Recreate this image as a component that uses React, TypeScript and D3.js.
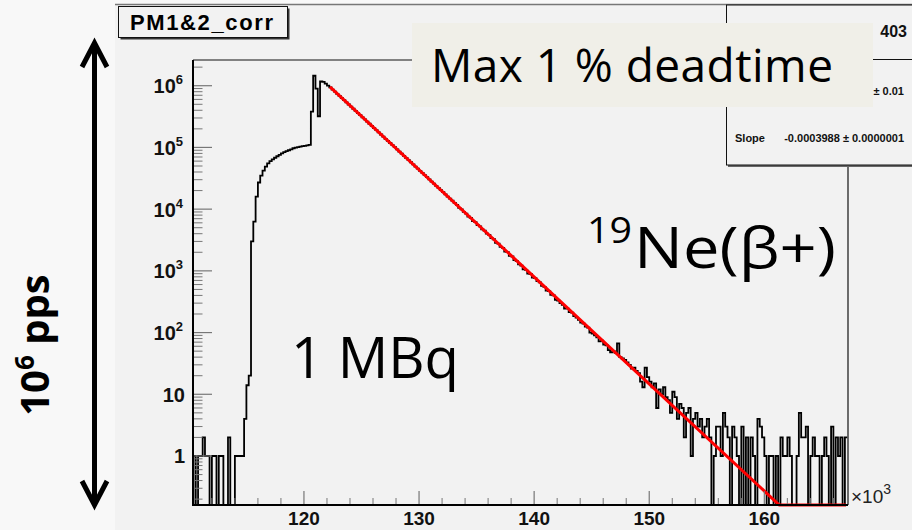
import React from 'react';
import * as d3 from 'd3';

const W = 912;
const H = 530;

// ---- histogram data (bin width 0.2 ×10^3) ----
const binWidth = 0.2;

const preEdgeStart = 110.4;
const preEdgeCounts = [1, 0, 1, 1, 2, 1, 1, 0, 1, 1, 0, 1, 1, 0, 0, 2, 0, 0, 1, 1, 1, 1, 4, 14, 20];

const riseStart = 115.4;
const riseCounts = [
  3000, 6300, 16000, 27000, 35000, 42000, 49000, 55000, 60000, 64000, 68000, 72000, 76000,
  80000, 84000, 87000, 90000, 93000, 97000, 99000, 101000, 103000, 105000, 106000, 108000,
  110000, 380000, 1450000, 900000, 320000, 1170000, 1150000, 1080000, 1000000,
];

const decayStart = 122.2;
const decayCounts = [
  938000, 866000, 800000, 739000, 682000,
  630000, 582000, 537000, 496000, 458000,
  423000, 390000, 360000, 333000, 307000,
  284000, 262000, 242000, 223000, 206000,
  190000, 176000, 162000, 150000, 138000,
  128000, 118000, 109000, 101000, 92800,
  85700, 79100, 73000, 67400, 62300,
  57500, 53100, 49000, 45300, 41800,
  38600, 35600, 32900, 30400, 28000,
  25900, 23900, 22100, 20400, 18800,
  17400, 16000, 14800, 13700, 12600,
  11700, 10500, 9940, 9000, 8470,
  7600, 7220, 6400, 6160, 5500,
  5250, 4700, 4470, 4000, 3820,
  3400, 3250, 2850, 2770, 2450,
  2360, 2050, 2010, 1750, 1720,
  1500, 1440, 1280, 1220, 1060,
  1040, 900, 890, 780, 760,
  680, 650, 570, 550, 480,
  470, 410, 400, 340, 330,
  300, 280, 245, 245, 215,
  210, 185, 175, 160, 145,
  140, 125, 120, 100, 96,
  90, 84, 72, 74, 64,
];

const tailStart = 146.2;
const tailCounts = [
  62, 52, 48, 50, 47, 67, 40, 38, 36, 33, 30, 26, 27, 24, 22, 16, 13, 27, 19, 16,
  13, 15, 6, 12, 10, 13, 9, 8, 5, 11, 9, 4, 7, 6, 2, 5, 6, 1, 4, 5,
  3, 4, 2, 3, 4, 2, 0, 1, 3, 3, 1, 5, 3, 2, 0, 3, 2, 1, 0, 3,
  0, 2, 0, 2, 1, 0, 4, 3, 2, 1, 0, 1, 1, 0, 1, 0, 2, 1, 1, 2,
  1, 0, 0, 1, 5, 2, 2, 3, 0, 1, 2, 1, 1, 0, 1, 2, 1, 0, 3, 0,
  2, 1, 2, 0, 2,
];

// exponential fit (straight in log scale), end points
const fitX = [122.26, 161.3, 167.1];
const fitY = [955000, 0.16, 0.0164];

// axes
const xMajor = [120, 130, 140, 150, 160];
const xMinor = [112, 114, 116, 118, 122, 124, 126, 128, 132, 134, 136, 138, 142, 144, 146, 148, 152, 154, 156, 158, 162, 164, 166];
const yMajorExp = [0, 1, 2, 3, 4, 5, 6];

const FL = 193, FR = 848, FT = 60, FB = 505;

export default function App() {
  const x = d3.scaleLinear().domain([110.36, 167.27]).range([FL, FR]);
  const y = d3.scaleLog().domain([0.1607, 2.61e6]).range([FB, FT]).clamp(true);
  const yv = (v: number) => (v > 0 ? y(v) : FB);

  const segs: [number, number[]][] = [
    [preEdgeStart, preEdgeCounts],
    [riseStart, riseCounts],
    [decayStart, decayCounts],
    [tailStart, tailCounts],
  ];
  const bins: { x0: number; x1: number; c: number }[] = [];
  segs.forEach(([s, arr]) => arr.forEach((c, i) => bins.push({ x0: s + i * binWidth, x1: s + (i + 1) * binWidth, c })));

  let d = '';
  bins.forEach((b, i) => {
    const yy = yv(b.c).toFixed(2);
    if (i === 0) d += `M${x(b.x0).toFixed(2)},${FB}V${yy}`;
    else d += `V${yy}`;
    d += `H${x(b.x1).toFixed(2)}`;
  });

  const fitLine = d3
    .line<number>()
    .x((_, i) => x(fitX[i]))
    .y((v) => y(v))(fitY);

  const yMinor: number[] = [];
  for (let e = -1; e <= 6; e++) {
    for (let k = 2; k <= 9; k++) {
      const v = k * Math.pow(10, e);
      if (v >= 0.1607 && v <= 2.61e6) yMinor.push(v);
    }
  }

  const axisFont = "'Liberation Sans', Arial, Helvetica, sans-serif";
  const bigFont = "'Open Sans', 'Noto Sans', sans-serif";

  return (
    <svg width={W} height={H} style={{ position: 'absolute', left: 0, top: 0 }} xmlns="http://www.w3.org/2000/svg">
      {/* backgrounds */}
      <rect x={0} y={0} width={W} height={H} fill="#f8f8f8" />
      <rect x={115} y={4} width={W - 115} height={H - 4} fill="#f2f2f2" />
      <line x1={115} y1={4.5} x2={W} y2={4.5} stroke="#777" strokeWidth={1.5} />

      {/* frame */}
      <line x1={FL} y1={FT} x2={FR} y2={FT} stroke="#111" strokeWidth={1.2} />
      <line x1={FR} y1={FT} x2={FR} y2={FB} stroke="#111" strokeWidth={1.2} />

      {/* histogram */}
      <path d={d} fill="none" stroke="#000" strokeWidth={1.8} strokeLinejoin="miter" />

      {/* fit */}
      <path d={fitLine || ''} fill="none" stroke="#ff0000" strokeWidth={3} />

      {/* y axis ticks */}
      {yMinor.map((v) => (
        <line key={'ym' + v} x1={FL} x2={FL + 9.5} y1={y(v)} y2={y(v)} stroke="#777" strokeWidth={1} />
      ))}
      {yMajorExp.map((e) => (
        <line key={'yM' + e} x1={FL} x2={FL + 19} y1={y(Math.pow(10, e))} y2={y(Math.pow(10, e))} stroke="#777" strokeWidth={1.2} />
      ))}
      {/* y labels */}
      {yMajorExp.map((e) => {
        const ty = y(Math.pow(10, e)) + 7.5;
        if (e === 0)
          return (
            <text key={'yl' + e} x={185} y={ty} textAnchor="end" fontFamily={axisFont} fontWeight="bold" fontSize={20} fill="#111">1</text>
          );
        if (e === 1)
          return (
            <text key={'yl' + e} x={185} y={ty} textAnchor="end" fontFamily={axisFont} fontWeight="bold" fontSize={20} fill="#111">10</text>
          );
        return (
          <text key={'yl' + e} x={183} y={ty} textAnchor="end" fontFamily={axisFont} fontWeight="bold" fontSize={20} fill="#111">
            10<tspan fontSize={13} dy={-9}>{e}</tspan>
          </text>
        );
      })}

      {/* x axis ticks */}
      {xMinor.map((v) => (
        <line key={'xm' + v} x1={x(v)} x2={x(v)} y1={FB} y2={FB - 7} stroke="#777" strokeWidth={1} />
      ))}
      {xMajor.map((v) => (
        <line key={'xM' + v} x1={x(v)} x2={x(v)} y1={FB} y2={FB - 14} stroke="#777" strokeWidth={1.2} />
      ))}
      {xMajor.map((v) => (
        <text key={'xl' + v} x={x(v)} y={525} textAnchor="middle" fontFamily={axisFont} fontWeight="bold" fontSize={19} fill="#111">{v}</text>
      ))}
      <text x={851} y={503} fontFamily={axisFont} fontSize={19} fill="#222">
        ×10<tspan fontSize={14} dy={-9}>3</tspan>
      </text>

      {/* axis lines */}
      <line x1={FL} y1={FT} x2={FL} y2={FB + 1} stroke="#000" strokeWidth={2} />
      <line x1={FL - 1} y1={FB} x2={FR} y2={FB} stroke="#000" strokeWidth={2} />

      {/* stats box */}
      <rect x={728} y={7} width={W - 728} height={160} fill="#666" />
      <rect x={726.5} y={5} width={W - 726} height={160} fill="#f2f2f2" stroke="#111" strokeWidth={1} />
      <line x1={726.5} y1={59.5} x2={W} y2={59.5} stroke="#111" strokeWidth={1} />
      <text x={907} y={37} textAnchor="end" fontFamily={axisFont} fontWeight="bold" fontSize={16} fill="#111">403</text>
      <text x={904} y={95} textAnchor="end" fontFamily={axisFont} fontWeight="bold" fontSize={11} fill="#111">± 0.01</text>
      <text x={735} y={142} fontFamily={axisFont} fontWeight="bold" fontSize={11} fill="#111">Slope</text>
      <text x={904} y={142} textAnchor="end" fontFamily={axisFont} fontWeight="bold" fontSize={11} fill="#111">-0.0003988 ± 0.0000001</text>

      {/* overlay box */}
      <rect x={412} y={23} width={461} height={84} fill="#f0efe8" />
      <text x={431} y={81.5} fontFamily={bigFont} fontSize={46} fill="#000" textLength={402} lengthAdjust="spacing">Max 1 % deadtime</text>

      {/* title box */}
      <rect x={120.5} y={8.5} width={169} height={31} fill="#333" />
      <rect x={118.5} y={6.5} width={169} height={31} fill="#f2f2f2" stroke="#111" strokeWidth={1} />
      <text x={130} y={29.5} fontFamily={axisFont} fontWeight="bold" fontSize={22} fill="#000" textLength={143} lengthAdjust="spacing">PM1&amp;2_corr</text>

      {/* big annotations */}
      <text x={587} y={243} fontFamily={bigFont} fontSize={37} fill="#000" textLength={45} lengthAdjust="spacingAndGlyphs">19</text>
      <text x={634} y={268} fontFamily={bigFont} fontSize={57} fill="#000" textLength={202} lengthAdjust="spacingAndGlyphs">Ne(β+)</text>
      <text x={291} y={378} fontFamily={bigFont} fontSize={56} fill="#000" textLength={168} lengthAdjust="spacingAndGlyphs">1 MBq</text>

      {/* left arrow */}
      <line x1={94.5} y1={45} x2={94.5} y2={502} stroke="#000" strokeWidth={5} />
      <polyline points="82,67 94.5,43 107,67" fill="none" stroke="#000" strokeWidth={5} />
      <polyline points="82,481 94.5,505 107,481" fill="none" stroke="#000" strokeWidth={5} />
      <g transform="translate(49,345) rotate(-90)">
        <text x={0} y={0} textAnchor="middle" fontFamily={bigFont} fontWeight="bold" fontSize={40} fill="#000">
          10<tspan fontSize={26} dy={-15}>6</tspan>
          <tspan dy={15}> pps</tspan>
        </text>
      </g>
    </svg>
  );
}
